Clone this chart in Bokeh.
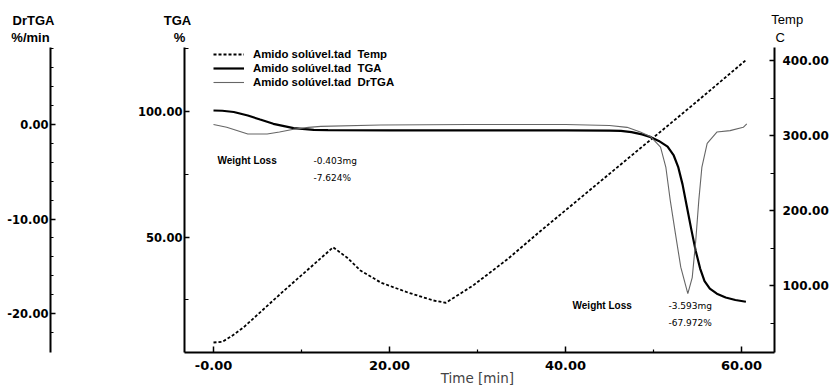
from bokeh.plotting import figure
from bokeh.models import (Range1d, LinearAxis, FixedTicker, Legend, LegendItem, Label)
from bokeh.embed import file_html
from bokeh.resources import INLINE

# ---------------- data ----------------
time_tga = [0, 1, 2.3, 3.9, 5.3, 6.8, 9.1, 11.4, 13, 20, 30, 40, 45, 46.3, 47.5, 48.7,
            49.7, 50.6, 51.6, 52.3, 52.8, 53.3, 53.8, 54.3, 54.8, 55.3, 55.8, 56.4,
            57.2, 58.2, 59.3, 60.5]
tga = [100.4, 100.3, 99.8, 98.4, 96.8, 95.1, 93.4, 92.7, 92.6, 92.5, 92.5, 92.5, 92.4,
       92.3, 91.8, 90.9, 89.8, 88.3, 86.0, 82.5, 78.0, 71.0, 62.0, 53.0, 44.5, 37.5,
       32.5, 29.5, 27.5, 26.0, 25.0, 24.3]

time_dr = [0, 1.5, 3.9, 6.1, 7.5, 9.1, 10.8, 12.2, 19, 29, 40, 45, 47, 48.5, 49.7,
           50.8, 51.4, 51.9, 52.5, 53.1, 53.9, 54.4, 54.8, 55.15, 55.5, 56.1, 57.2,
           58.7, 60.2, 60.6]
drtga = [0.0, -0.3, -1.0, -1.0, -0.8, -0.5, -0.3, -0.2, -0.05, 0.0, 0.0, -0.1, -0.3,
         -0.8, -1.3, -2.4, -4.5, -8.0, -11.6, -15.1, -17.9, -16.2, -12.3, -8.0, -4.5,
         -2.0, -0.8, -0.65, -0.3, 0.07]

time_temp = [0, 1, 2, 3.4, 8, 11, 13.6, 15.2, 16.7, 19, 22, 25, 26.4, 29.5, 33.4, 37.2,
             40.9, 44.8, 48.5, 51, 54.8, 60.45]
temp = [24, 25, 32, 44, 93, 124, 151, 137, 120, 104, 91, 80, 77, 100, 135, 173, 209, 247,
        283, 307, 344, 400]

x_ticks = [0, 20, 40, 60]
x_tick_labels = ["-0.00", "20.00", "40.00", "60.00"]
x_minor = [10, 30, 50]
tga_ticks = [50, 100]
tga_tick_labels = ["50.00", "100.00"]
tga_minor = [25, 75, 125]
dr_ticks = [-20, -10, 0]
dr_tick_labels = ["-20.00", "-10.00", "0.00"]
dr_minor = [-22, -18, -16, -14, -12, -8, -6, -4, -2, 2, 4, 6, 8]
temp_ticks = [100, 200, 300, 400]
temp_tick_labels = ["100.00", "200.00", "300.00", "400.00"]
temp_minor = [50, 150, 250, 350]

legend_labels = ["Amido sol\u00favel.tad\u00a0 Temp", "Amido sol\u00favel.tad\u00a0 TGA",
                 "Amido sol\u00favel.tad\u00a0 DrTGA"]

# annotation texts: (text, time, TGA %)
ann_bold = [("Weight Loss", 0.45, 80.5), ("Weight Loss", 40.8, 22.8)]
ann_plain = [("-0.403mg", 11.36, 80.5), ("-7.624%", 11.36, 73.7),
             ("-3.593mg", 51.7, 22.8), ("-67.972%", 51.7, 16.0)]
titles = [("DrTGA", -20.45, 136.2, "bold"), ("%/min", -20.8, 129.4, "bold"),
          ("TGA", -4.1, 136.2, "bold"), ("%", -3.86, 129.4, "bold"),
          ("Temp", 65.2, 136.6, "normal"), ("C", 64.4, 129.4, "normal")]

# ---------------- layout constants (pixel anchors) ----------------
W, H = 831, 387
PX_PER_MIN, X0_PX = 8.8, 213.0          # t=0 at x=213
PX_PER_PCT, Y100_PX = 2.513, 111.0      # TGA 100 % at y=111
PX_PER_DR, YDR0_PX = 9.45, 124.0        # DrTGA 0 at y=124
PX_PER_C, Y400_PX = 0.75, 60.0          # 400 C at y=60

x_rng = Range1d(-X0_PX / PX_PER_MIN, (W - X0_PX) / PX_PER_MIN)
tga_rng = Range1d(100 - (H - Y100_PX) / PX_PER_PCT, 100 + Y100_PX / PX_PER_PCT)
dr_rng = Range1d(-(H - YDR0_PX) / PX_PER_DR, YDR0_PX / PX_PER_DR)
temp_rng = Range1d(400 - (H - Y400_PX) / PX_PER_C, 400 + Y400_PX / PX_PER_C)

frame_l, frame_r, frame_t, frame_b = 184.0, 774.0, 47.0, 352.0
t_left = (frame_l - X0_PX) / PX_PER_MIN
t_right = (frame_r - X0_PX) / PX_PER_MIN
dr_axis_t = (50.0 - X0_PX) / PX_PER_MIN
tga_bounds = (100 - (frame_b - Y100_PX) / PX_PER_PCT, 100 + (Y100_PX - frame_t) / PX_PER_PCT)
dr_bounds = (-(frame_b - YDR0_PX) / PX_PER_DR, (YDR0_PX - frame_t) / PX_PER_DR)
temp_bounds = (400 - (frame_b - Y400_PX) / PX_PER_C, 400 + (Y400_PX - frame_t) / PX_PER_C)

# ---------------- figure ----------------
p = figure(width=W, height=H, output_backend="svg", toolbar_location=None,
           x_range=x_rng, y_range=tga_rng, x_axis_type=None, y_axis_type=None,
           min_border=0, min_border_left=0, min_border_right=0, min_border_top=0,
           min_border_bottom=0)
p.outline_line_color = None
p.background_fill_color = "white"
p.border_fill_color = "white"
p.extra_y_ranges = {"dr": dr_rng, "temp": temp_rng}

TICK_FONT = "DejaVu Sans"


def style_axis(ax, size, tick_in, minor_in, standoff):
    ax.axis_line_width = 2
    ax.axis_line_color = "black"
    ax.major_tick_in = tick_in
    ax.major_tick_out = 0
    ax.minor_tick_in = minor_in
    ax.minor_tick_out = 0
    ax.major_tick_line_width = 1.5
    ax.minor_tick_line_width = 1.2
    ax.major_tick_line_color = "black"
    ax.minor_tick_line_color = "black"
    ax.major_label_text_font = TICK_FONT
    ax.major_label_text_font_style = "bold"
    ax.major_label_text_font_size = size
    ax.major_label_text_color = "black"
    ax.major_label_standoff = standoff


ax_tga = LinearAxis(ticker=FixedTicker(ticks=tga_ticks, minor_ticks=tga_minor),
                    major_label_overrides={float(t): l for t, l in zip(tga_ticks, tga_tick_labels)},
                    fixed_location=t_left, bounds=tga_bounds)
style_axis(ax_tga, "11.5px", 5, 4, 2)
p.add_layout(ax_tga, "left")

ax_dr = LinearAxis(y_range_name="dr",
                   ticker=FixedTicker(ticks=dr_ticks, minor_ticks=dr_minor),
                   major_label_overrides={float(t): l for t, l in zip(dr_ticks, dr_tick_labels)},
                   fixed_location=dr_axis_t, bounds=dr_bounds)
style_axis(ax_dr, "11.5px", 5, 3, 2)
p.add_layout(ax_dr, "left")

ax_temp = LinearAxis(y_range_name="temp",
                     ticker=FixedTicker(ticks=temp_ticks, minor_ticks=temp_minor),
                     major_label_overrides={float(t): l for t, l in zip(temp_ticks, temp_tick_labels)},
                     fixed_location=t_right, bounds=temp_bounds)
style_axis(ax_temp, "12px", 5, 4, 8)
p.add_layout(ax_temp, "right")

ax_x = LinearAxis(ticker=FixedTicker(ticks=x_ticks, minor_ticks=x_minor),
                  major_label_overrides={float(t): l for t, l in zip(x_ticks, x_tick_labels)},
                  fixed_location=tga_bounds[0], bounds=(t_left, t_right))
style_axis(ax_x, "13px", 6, 3, 8)
ax_x.axis_label = "Time  [min]"
ax_x.axis_label_text_font = TICK_FONT
ax_x.axis_label_text_font_size = "13.5px"
ax_x.axis_label_text_font_style = "normal"
ax_x.axis_label_standoff = -3
p.add_layout(ax_x, "below")

# ---------------- lines ----------------
r_temp = p.line(time_temp, temp, y_range_name="temp", line_color="black",
                line_width=1.8, line_dash="3 2")
r_tga = p.line(time_tga, tga, line_color="black", line_width=2.2)
r_dr = p.line(time_dr, drtga, y_range_name="dr", line_color="#666666", line_width=1.1)

legend = Legend(items=[LegendItem(label=legend_labels[0], renderers=[r_temp]),
                       LegendItem(label=legend_labels[1], renderers=[r_tga]),
                       LegendItem(label=legend_labels[2], renderers=[r_dr])],
                location=(213, H - 89), orientation="vertical",
                border_line_color=None, background_fill_alpha=0,
                padding=0, margin=0, spacing=0, glyph_width=31, glyph_height=14,
                label_height=14, label_standoff=9,
                label_text_font="Liberation Sans", label_text_font_style="bold",
                label_text_font_size="11.4px", label_text_color="black")
p.add_layout(legend, "center")

for txt, x, y in ann_bold:
    p.add_layout(Label(x=x, y=y, text=txt, text_font="Liberation Sans",
                       text_font_style="bold", text_font_size="10px",
                       text_baseline="middle", text_align="left", text_color="black"))
for txt, x, y in ann_plain:
    p.add_layout(Label(x=x, y=y, text=txt, text_font="DejaVu Sans",
                       text_font_size="9px", text_baseline="middle",
                       text_align="left", text_color="black"))
for txt, x, y, style in titles:
    p.add_layout(Label(x=x, y=y, text=txt, text_font="Liberation Sans",
                       text_font_style=style, text_font_size="13px",
                       text_baseline="middle", text_align="center", text_color="black"))

open("out.html", "w").write(file_html(p, INLINE))
